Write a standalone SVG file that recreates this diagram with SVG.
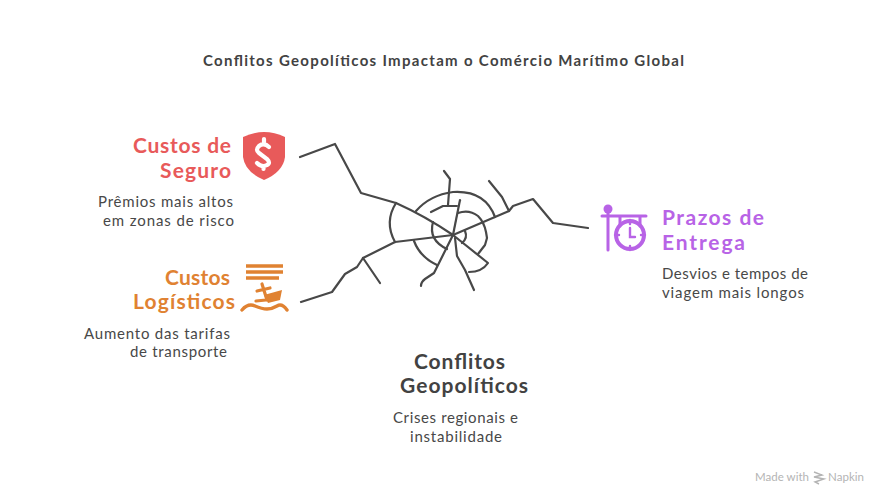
<svg xmlns="http://www.w3.org/2000/svg" width="888" height="504" viewBox="0 0 888 504">
<style>
text{font-family:"Lato","Noto Sans",sans-serif}
.h{font-size:21px;font-weight:700}
.d{font-size:15px;fill:#484848}
.r{fill:#E85A5A}.o{fill:#E08232}.p{fill:#B863E6}
.c path{fill:none;stroke:#484848;stroke-width:2.2;stroke-linecap:round;stroke-linejoin:round}
</style>
<rect width="888" height="504" fill="#fff"/>
<text id="title" x="203" y="66" font-size="15" font-weight="700" fill="#424242" textLength="481">Conflitos Geopolíticos Impactam o Comércio Marítimo Global</text>
<g id="connectors" class="c">
<path d="M300 157L335 144L361 193L396 203Q425 216 453 235"/>
<path d="M396 203Q384 222 395 242"/>
<path d="M453 235L395 242L363 258L357 267L345 274L332 292L301 302"/>
<path d="M363 258L380 283"/>
<path d="M416 211Q430 195 453 192Q485 190 495 217"/>
<path d="M453 235L495 217L509 211L513 206L533 199L553 223L588 228"/>
<path d="M509 211L502 197L489 181"/>
<path d="M444 171L450 179L448 205"/>
<path d="M431 212L443 206L457 206"/>
<path d="M460 200L453 235"/>
<path d="M458 213Q469 209 478 216Q484 222 486 232L487 238L485 245L478 254"/>
<path d="M465 231Q468 238 462 243"/>
<path d="M433 222Q428 240 447 249"/>
<path d="M414 241Q420 257 437 265"/>
<path d="M453 235L434 273L425 279Q421 282 421 286"/>
<path d="M455 238L457 256L465 270L474 290"/>
<path d="M453 235L488 263Q482 272 469 272"/>
</g>
<g id="node-seguro">
<text class="h r" x="133" y="153" textLength="98">Custos de</text>
<text class="h r" x="160" y="178" textLength="71">Seguro</text>
<text class="d" x="98" y="207" textLength="135">Prêmios mais altos</text>
<text class="d" x="103" y="226" textLength="131">em zonas de risco</text>
<path class="r" d="M243 137Q264 127 285 137V157Q283 172 264 180Q245 172 243 157Z"/>
<path d="M269 147Q264 142 259 146Q255 150 259 153L267 159Q271 163 267 165Q262 168 257 163M264 139V142M263.500 166V169" fill="none" stroke="#fff" stroke-width="4.200" stroke-linecap="round"/>
</g>
<g id="node-logisticos">
<text class="h o" x="165" y="285" textLength="65">Custos</text>
<text class="h o" x="133" y="309" textLength="102">Logísticos</text>
<text class="d" x="84" y="339" textLength="146">Aumento das tarifas</text>
<text class="d" x="130" y="357" textLength="97">de transporte</text>
<path d="M246 266H283M246 272H283M246 278H279" stroke="#E08232" stroke-width="3.400" fill="none"/>
<path class="o" d="M264 295L282 290L280 300L268 303Z"/>
<path d="M262 284L267 300M257 291L270 288M266 300L256 301" stroke="#E08232" stroke-width="3.200" fill="none" stroke-linecap="round"/>
<path d="M242 310Q248 303 255 306T267 309T277 306T287 310" stroke="#E08232" stroke-width="3.400" fill="none" stroke-linecap="round"/>
</g>
<g id="node-prazos">
<text class="h p" x="662" y="225" textLength="102">Prazos de</text>
<text class="h p" x="662" y="250" textLength="83">Entrega</text>
<text class="d" x="662" y="279" textLength="146">Desvios e tempos de</text>
<text class="d" x="662" y="298" textLength="142">viagem mais longos</text>
<circle class="p" cx="608" cy="209" r="4.500"/>
<path d="M608 210V250M602 216H646M620 216V226M640 216V226" stroke="#B863E6" stroke-width="3" fill="none" stroke-linecap="round"/>
<circle cx="630" cy="235" r="14" fill="none" stroke="#B863E6" stroke-width="4"/>
<path d="M630 228V237H635M630 220V224M630 246V250M615 235H619M641 235H645" stroke="#B863E6" stroke-width="2.400" fill="none" stroke-linecap="round"/>
</g>
<g id="node-conflitos">
<text class="h" fill="#424242" x="414" y="369" textLength="91">Conflitos</text>
<text class="h" fill="#424242" x="400" y="393" textLength="128">Geopolíticos</text>
<text class="d" x="393" y="423" textLength="125">Crises regionais e</text>
<text class="d" x="410" y="442" textLength="92">instabilidade</text>
</g>
<g id="watermark">
<text x="755" y="481" font-size="11.500" fill="#b4b4b4" textLength="54">Made with</text>
<path d="M814 472L822 475L814 477L824 479L815 482L819 484" fill="none" stroke="#b4b4b4" stroke-width="1.400"/>
<text x="828" y="481" font-size="11.500" fill="#b4b4b4" textLength="36">Napkin</text>
</g>
</svg>
